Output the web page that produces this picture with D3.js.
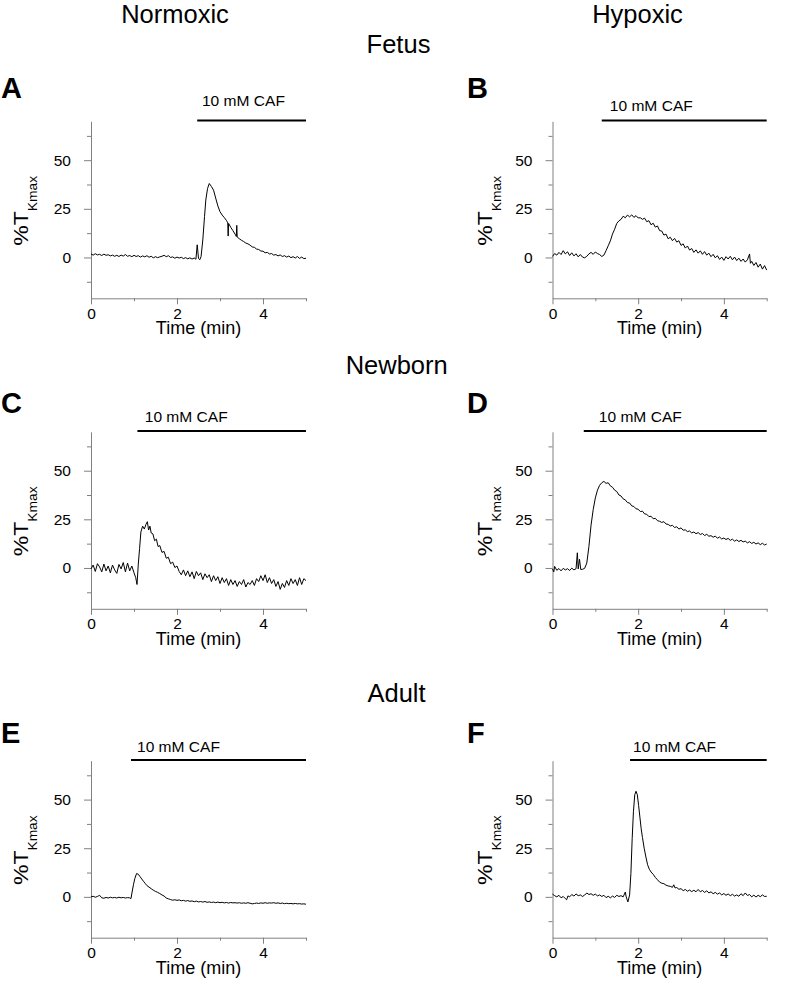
<!DOCTYPE html>
<html><head><meta charset="utf-8">
<script src="https://cdn.jsdelivr.net/npm/d3@7"></script>
<style>
body{margin:0;background:#fff}
svg{display:block}
text{font-family:"Liberation Sans",Arial,Helvetica,sans-serif}
</style>
</head><body>
<svg id="chart" width="792" height="986"></svg>
<script>
// ---------------- DATA ----------------
const columnTitles = ["Normoxic", "Hypoxic"];
const rowTitles = ["Fetus", "Newborn", "Adult"];
const panelLetters = ["A", "B", "C", "D", "E", "F"];
const drugLabel = "10 mM CAF";
const cafStart = [2.47, 1.15, 1.08, 0.73, 0.93, 1.81]; // min
const cafEnd = 5;
const xMajorTicks = [0, 2, 4];
const xMinorTicks = [1, 3, 5];
const yMajorTicks = [0, 25, 50];
const yMinorTicks = [-12.5, 12.5, 37.5, 62.5];
const xDomain = [0, 5];
const yDomain = [-21, 70];
const xTitle = "Time (min)";

// [time (min), %TKmax]
const traceA = [[0,1.8],[0.05,1.2],[0.1,1.9],[0.15,1.3],[0.2,1.6],[0.25,1.0],[0.3,1.7],[0.35,1.1],[0.4,1.4],[0.45,0.8],[0.5,1.2],[0.55,0.6],[0.6,1.1],[0.65,0.5],[0.7,1.2],[0.75,0.7],[0.8,1.5],[0.85,0.6],[0.9,1.0],[0.95,0.4],[1.0,1.1],[1.05,0.5],[1.1,0.9],[1.15,0.2],[1.2,0.8],[1.25,0.3],[1.3,0.9],[1.35,0.1],[1.4,0.6],[1.45,-0.2],[1.5,0.4],[1.55,-0.1],[1.6,0.3],[1.65,0.6],[1.7,1.1],[1.75,0.4],[1.8,0.9],[1.85,0.0],[1.9,0.3],[1.95,-0.4],[2.0,0.2],[2.05,-0.3],[2.1,0.1],[2.15,-0.6],[2.2,-0.1],[2.25,-0.7],[2.3,-0.2],[2.35,-0.8],[2.4,-0.3],[2.44,-0.9],[2.47,6.5],[2.5,-0.5],[2.53,-1.2],[2.56,0.5],[2.6,9],[2.64,21],[2.67,29.5],[2.71,35.4],[2.75,38],[2.8,36.5],[2.85,34.6],[2.9,30.5],[2.95,26.5],[3.0,23.5],[3.05,21.8],[3.1,20.5],[3.15,19.0],[3.18,17.8],[3.19,11.0],[3.2,17.5],[3.25,15.5],[3.3,13.8],[3.35,12.0],[3.38,10.8],[3.39,16.5],[3.4,10.5],[3.45,9.6],[3.5,8.8],[3.55,8.2],[3.6,7.4],[3.65,7.0],[3.7,6.3],[3.75,5.4],[3.8,5.2],[3.85,4.3],[3.9,4.1],[3.95,3.3],[4.0,3.2],[4.05,2.4],[4.1,2.6],[4.15,1.8],[4.2,2.0],[4.25,1.2],[4.3,1.5],[4.35,0.8],[4.4,1.3],[4.45,0.5],[4.5,0.9],[4.55,0.2],[4.6,0.7],[4.65,-0.1],[4.7,0.4],[4.75,-0.3],[4.8,0.5],[4.85,-0.5],[4.9,0.2],[4.95,-0.6],[5.0,-0.4]];

const traceB = [[0,0.5],[0.05,2.0],[0.1,1.2],[0.15,2.6],[0.2,1.5],[0.25,3.5],[0.3,1.8],[0.35,2.9],[0.4,1.0],[0.45,2.4],[0.5,0.8],[0.55,1.9],[0.6,0.3],[0.65,1.5],[0.7,0.2],[0.75,-0.2],[0.8,0.6],[0.85,1.8],[0.9,2.6],[0.95,1.6],[1.0,2.8],[1.05,2.0],[1.1,1.5],[1.15,0.5],[1.2,1.2],[1.25,3.5],[1.3,6.0],[1.35,8.5],[1.4,12.0],[1.45,14.5],[1.5,17.5],[1.55,18.8],[1.6,19.6],[1.65,21.2],[1.7,20.4],[1.75,21.8],[1.8,20.9],[1.85,21.9],[1.9,20.6],[1.95,21.5],[2.0,20.3],[2.05,20.4],[2.1,19.6],[2.15,20.2],[2.2,18.4],[2.25,18.9],[2.3,16.8],[2.35,17.6],[2.4,15.6],[2.45,16.2],[2.5,13.8],[2.55,13.6],[2.6,11.5],[2.65,12.0],[2.7,9.6],[2.75,10.4],[2.8,8.6],[2.85,9.8],[2.9,7.9],[2.95,8.6],[3.0,6.2],[3.05,7.0],[3.1,4.8],[3.15,5.9],[3.2,3.8],[3.25,4.6],[3.3,2.6],[3.35,3.9],[3.4,2.2],[3.45,3.4],[3.5,1.6],[3.55,3.0],[3.6,1.2],[3.65,2.2],[3.7,0.4],[3.75,1.6],[3.8,-0.2],[3.85,0.9],[3.9,-1.0],[3.95,0.2],[4.0,-1.5],[4.05,0.4],[4.1,-0.8],[4.15,0.6],[4.2,-1.2],[4.25,0.2],[4.3,-1.6],[4.35,-0.4],[4.4,-2.0],[4.45,-0.8],[4.5,-2.4],[4.55,-1.2],[4.6,1.8],[4.62,-3.0],[4.65,-2.0],[4.7,-4.1],[4.75,-2.6],[4.8,-5.0],[4.85,-3.4],[4.9,-6.0],[4.95,-4.2],[5.0,-6.5]];

const traceC = [[0,-0.5],[0.05,1.5],[0.1,-1.8],[0.15,2.2],[0.2,0.5],[0.25,-2.0],[0.3,2.0],[0.35,-1.5],[0.4,1.0],[0.45,-2.5],[0.5,1.5],[0.55,-1.0],[0.6,-2.8],[0.65,1.8],[0.7,-0.5],[0.75,2.8],[0.8,-2.0],[0.85,2.5],[0.9,-1.5],[0.95,1.0],[1.0,-2.5],[1.04,-5.0],[1.07,-8.5],[1.1,2.0],[1.13,10.0],[1.16,18.5],[1.2,21.5],[1.24,20.0],[1.28,22.5],[1.31,23.8],[1.34,19.5],[1.37,21.5],[1.4,18.0],[1.44,17.5],[1.48,14.0],[1.52,14.8],[1.56,11.0],[1.6,11.5],[1.65,8.0],[1.7,8.5],[1.75,5.0],[1.8,5.5],[1.85,2.2],[1.9,3.0],[1.95,0.2],[2.0,1.0],[2.05,-1.8],[2.1,-3.5],[2.15,-1.0],[2.2,-4.0],[2.25,-1.5],[2.3,-4.5],[2.35,-2.0],[2.4,-5.5],[2.45,-1.8],[2.5,-4.0],[2.55,-2.5],[2.6,-6.0],[2.65,-3.0],[2.7,-5.0],[2.75,-3.5],[2.8,-7.0],[2.85,-4.0],[2.9,-6.5],[2.95,-4.5],[3.0,-8.0],[3.05,-5.0],[3.1,-7.5],[3.15,-5.5],[3.2,-9.0],[3.25,-6.0],[3.3,-8.5],[3.35,-6.5],[3.4,-9.5],[3.45,-7.0],[3.5,-8.5],[3.55,-6.0],[3.6,-9.8],[3.65,-7.5],[3.7,-8.5],[3.75,-6.5],[3.8,-9.0],[3.85,-5.5],[3.9,-7.0],[3.95,-4.0],[4.0,-6.5],[4.05,-3.5],[4.1,-7.5],[4.15,-5.0],[4.2,-8.0],[4.25,-6.0],[4.3,-9.5],[4.35,-7.0],[4.4,-11.0],[4.45,-8.0],[4.5,-10.0],[4.55,-6.5],[4.6,-9.0],[4.65,-5.5],[4.7,-8.0],[4.75,-6.0],[4.8,-9.0],[4.85,-5.0],[4.9,-8.5],[4.95,-5.5],[5.0,-6.5]];

const traceD = [[0,-0.5],[0.03,-2.0],[0.05,0.8],[0.1,-1.2],[0.15,-0.3],[0.2,-1.5],[0.25,-0.2],[0.3,-1.0],[0.35,-0.4],[0.4,-1.3],[0.45,-0.1],[0.5,-1.0],[0.55,-0.4],[0.58,7.8],[0.6,-0.5],[0.63,4.5],[0.66,-0.8],[0.7,-0.7],[0.75,-0.2],[0.8,2.5],[0.85,11],[0.9,22],[0.95,30],[1.0,36],[1.05,40],[1.1,42.5],[1.15,43.8],[1.2,44.5],[1.25,43.5],[1.3,43.8],[1.35,42.2],[1.4,41.5],[1.45,40.0],[1.5,39.3],[1.55,37.5],[1.6,37.0],[1.65,35.5],[1.7,35.0],[1.75,33.6],[1.8,33.4],[1.85,31.9],[1.9,31.6],[1.95,30.4],[2.0,30.2],[2.05,29.0],[2.1,29.2],[2.15,27.8],[2.2,27.6],[2.25,26.4],[2.3,26.6],[2.35,25.3],[2.4,25.5],[2.45,24.3],[2.5,24.0],[2.55,23.4],[2.6,23.8],[2.65,22.6],[2.7,22.4],[2.75,21.6],[2.8,21.9],[2.85,20.8],[2.9,21.2],[2.95,20.0],[3.0,20.6],[3.05,19.4],[3.1,19.6],[3.15,18.7],[3.2,19.0],[3.25,18.0],[3.3,18.5],[3.35,17.6],[3.4,18.2],[3.45,17.2],[3.5,17.7],[3.55,16.7],[3.6,17.3],[3.65,16.3],[3.7,16.6],[3.75,15.8],[3.8,16.4],[3.85,15.3],[3.9,15.9],[3.95,14.9],[4.0,15.4],[4.05,14.6],[4.1,15.2],[4.15,14.2],[4.2,14.8],[4.25,13.8],[4.3,14.4],[4.35,13.6],[4.4,14.2],[4.45,13.4],[4.5,13.8],[4.55,12.9],[4.6,13.5],[4.65,12.6],[4.7,13.2],[4.75,12.3],[4.8,12.9],[4.85,12.0],[4.9,12.7],[4.95,11.8],[5.0,12.3]];

const traceE = [[0,0.0],[0.05,0.3],[0.1,-0.2],[0.15,0.2],[0.2,0.8],[0.25,-0.5],[0.3,-0.7],[0.35,-0.3],[0.4,-0.6],[0.45,-0.2],[0.5,-0.5],[0.55,-0.3],[0.6,-0.6],[0.65,-0.2],[0.7,-0.5],[0.75,-0.3],[0.8,-0.6],[0.85,-0.4],[0.9,-0.5],[0.93,-0.9],[0.96,3.0],[0.99,6.5],[1.02,9.5],[1.06,12.0],[1.1,11.6],[1.14,10.4],[1.18,9.2],[1.22,8.0],[1.26,6.9],[1.3,5.8],[1.35,5.0],[1.4,4.2],[1.45,3.4],[1.5,2.8],[1.55,2.3],[1.6,1.7],[1.65,1.0],[1.7,0.4],[1.75,-0.6],[1.8,-1.0],[1.85,-1.4],[1.9,-1.7],[1.95,-1.5],[2.0,-1.8],[2.05,-1.6],[2.1,-2.0],[2.15,-1.8],[2.2,-2.2],[2.25,-1.9],[2.3,-2.3],[2.35,-2.1],[2.4,-2.5],[2.45,-2.2],[2.5,-2.6],[2.55,-2.4],[2.6,-2.7],[2.65,-2.4],[2.7,-2.8],[2.75,-2.6],[2.8,-2.9],[2.85,-2.7],[2.9,-3.0],[2.95,-2.7],[3.0,-3.0],[3.05,-2.8],[3.1,-3.1],[3.15,-2.9],[3.2,-3.2],[3.25,-2.9],[3.3,-3.1],[3.35,-3.0],[3.4,-3.2],[3.45,-3.0],[3.5,-3.3],[3.55,-3.1],[3.6,-3.3],[3.65,-3.0],[3.7,-3.3],[3.75,-3.6],[3.8,-3.4],[3.85,-3.2],[3.9,-3.4],[3.95,-3.1],[4.0,-3.3],[4.05,-3.0],[4.1,-3.3],[4.15,-3.1],[4.2,-3.2],[4.25,-3.0],[4.3,-3.3],[4.35,-3.1],[4.4,-3.4],[4.45,-3.2],[4.5,-3.5],[4.55,-3.3],[4.6,-3.5],[4.65,-3.4],[4.7,-3.6],[4.75,-3.4],[4.8,-3.6],[4.85,-3.5],[4.9,-3.7],[4.95,-3.6],[5.0,-3.8]];

const traceF = [[0,1.4],[0.05,0.6],[0.1,0.0],[0.15,0.8],[0.2,-0.5],[0.25,0.2],[0.3,-0.9],[0.33,-1.5],[0.36,0.5],[0.4,0.0],[0.45,1.2],[0.5,0.4],[0.55,1.5],[0.6,0.6],[0.65,1.0],[0.7,0.2],[0.75,0.9],[0.8,2.0],[0.85,1.2],[0.9,1.6],[0.95,0.8],[1.0,1.4],[1.05,0.5],[1.1,1.0],[1.15,0.2],[1.2,0.8],[1.25,-0.4],[1.3,0.3],[1.35,-0.5],[1.4,0.4],[1.45,-0.3],[1.5,0.8],[1.55,0.2],[1.6,0.6],[1.65,0.0],[1.7,2.5],[1.72,0.0],[1.76,-2.6],[1.8,1.0],[1.83,12],[1.86,30],[1.89,44],[1.92,52.5],[1.95,54.3],[1.98,52.5],[2.01,47],[2.04,41],[2.07,35],[2.1,30.5],[2.14,25],[2.18,20.5],[2.22,16.5],[2.26,14.2],[2.3,12.8],[2.35,11.6],[2.4,10.0],[2.45,8.8],[2.5,7.6],[2.55,7.0],[2.6,6.8],[2.65,6.0],[2.7,5.6],[2.75,5.4],[2.8,4.9],[2.83,6.2],[2.86,4.6],[2.9,4.8],[2.95,3.9],[3.0,4.2],[3.05,3.2],[3.1,3.8],[3.15,2.9],[3.2,3.5],[3.25,2.7],[3.3,3.4],[3.35,2.6],[3.4,3.8],[3.45,2.6],[3.5,3.3],[3.55,2.3],[3.6,3.1],[3.65,2.0],[3.7,2.6],[3.75,1.6],[3.8,2.3],[3.85,1.4],[3.9,2.0],[3.95,1.0],[4.0,1.7],[4.05,0.8],[4.1,1.5],[4.15,0.6],[4.2,1.3],[4.25,0.4],[4.3,1.0],[4.35,0.3],[4.4,1.6],[4.45,0.6],[4.5,2.0],[4.55,0.7],[4.6,1.2],[4.65,0.0],[4.7,0.9],[4.75,-0.1],[4.8,0.8],[4.85,0.1],[4.9,1.0],[4.95,0.2],[5.0,0.3]];

const traces = [traceA, traceB, traceC, traceD, traceE, traceF];

// ---------------- LAYOUT ----------------
const colLayout = [
  {x0: 91, x1: 306, yLabelX: 28, letterX: 1},
  {x0: 552.5, x1: 766.7, yLabelX: 492, letterX: 467}
];
const rowLayout = [
  {top: 121.3, letterY: 98, headerY: 53},
  {top: 431.8, letterY: 413, headerY: 373.5},
  {top: 760.7, letterY: 743, headerY: 702}
];
const plotH = 177;
const cafLabelDx = [4.7, 8, 7.3, 15, 6, 3];
const cafLabelY = [106, 110.5, 421.5, 421.5, 751.5, 751.5];
const colHeaderX = [175, 637.5];
const rowHeaderX = [398.5, 396.7, 396.5];
const axisColor = "#808080";
const font = '"Liberation Sans",Arial,Helvetica,sans-serif';

const svg = d3.select("#chart");

// headers
columnTitles.forEach((t, i) => {
  svg.append("text").attr("x", colHeaderX[i]).attr("y", 23)
    .attr("text-anchor", "middle").attr("font-size", 25.5).text(t);
});
rowTitles.forEach((t, i) => {
  svg.append("text").attr("x", rowHeaderX[i]).attr("y", rowLayout[i].headerY)
    .attr("text-anchor", "middle").attr("font-size", 25.5).text(t);
});

traces.forEach((trace, i) => {
  const col = colLayout[i % 2];
  const row = rowLayout[Math.floor(i / 2)];
  const top = row.top, bottom = row.top + plotH;
  const x = d3.scaleLinear().domain(xDomain).range([col.x0, col.x1]);
  const y = d3.scaleLinear().domain(yDomain).range([bottom, top]);
  const g = svg.append("g");

  // panel letter
  g.append("text").attr("x", col.letterX).attr("y", row.letterY)
    .attr("font-size", 29).attr("font-weight", "bold").text(panelLetters[i]);

  // x axis
  const xMaj = g.append("g").attr("transform", `translate(0,${bottom})`)
    .call(d3.axisBottom(x).tickValues(xMajorTicks).tickSize(6).tickSizeOuter(0).tickFormat(d3.format("d")));
  const xMin = g.append("g").attr("transform", `translate(0,${bottom})`)
    .call(d3.axisBottom(x).tickValues(xMinorTicks).tickSize(3).tickSizeOuter(0).tickFormat(""));
  xMin.select(".domain").remove();
  xMaj.selectAll("text").attr("y", 20.5).attr("dy", null);

  // y axis
  const yMaj = g.append("g").attr("transform", `translate(${col.x0},0)`)
    .call(d3.axisLeft(y).tickValues(yMajorTicks).tickSize(7).tickPadding(13).tickSizeOuter(0).tickFormat(d3.format("d")));
  const yMin = g.append("g").attr("transform", `translate(${col.x0},0)`)
    .call(d3.axisLeft(y).tickValues(yMinorTicks).tickSize(4).tickSizeOuter(0).tickFormat(""));
  yMin.select(".domain").remove();

  [xMaj, xMin, yMaj, yMin].forEach(a => {
    a.attr("font-family", font).attr("font-size", 15);
    a.selectAll("path,line").attr("stroke", axisColor).attr("stroke-width", 1);
    a.selectAll("text").attr("fill", "#000").attr("font-size", 15.5);
  });

  // x title
  g.append("text").attr("x", (col.x0 + col.x1) / 2).attr("y", bottom + 36)
    .attr("text-anchor", "middle").attr("font-size", 18).text(xTitle);

  // y title %T_Kmax
  const yl = g.append("text")
    .attr("transform", `translate(${col.yLabelX},${(top + bottom) / 2 + 1}) rotate(-90) scale(1.15,1)`)
    .attr("text-anchor", "middle").attr("font-size", 20);
  yl.append("tspan").text("%T");
  yl.append("tspan").attr("font-size", 12).attr("dy", 9).text("Kmax");

  // caffeine bar
  g.append("line").attr("x1", x(cafStart[i])).attr("x2", x(cafEnd))
    .attr("y1", y(yDomain[1]) - 0.7).attr("y2", y(yDomain[1]) - 0.7)
    .attr("stroke", "#000").attr("stroke-width", 2);
  g.append("text").attr("x", x(cafStart[i]) + cafLabelDx[i]).attr("y", cafLabelY[i])
    .attr("font-size", 15).attr("textLength", 83).attr("lengthAdjust", "spacingAndGlyphs")
    .text(drugLabel);

  // trace
  g.append("path").datum(trace)
    .attr("d", d3.line().x(d => x(d[0])).y(d => y(d[1])))
    .attr("fill", "none").attr("stroke", "#000").attr("stroke-width", 1);
});
</script>
</body></html>
